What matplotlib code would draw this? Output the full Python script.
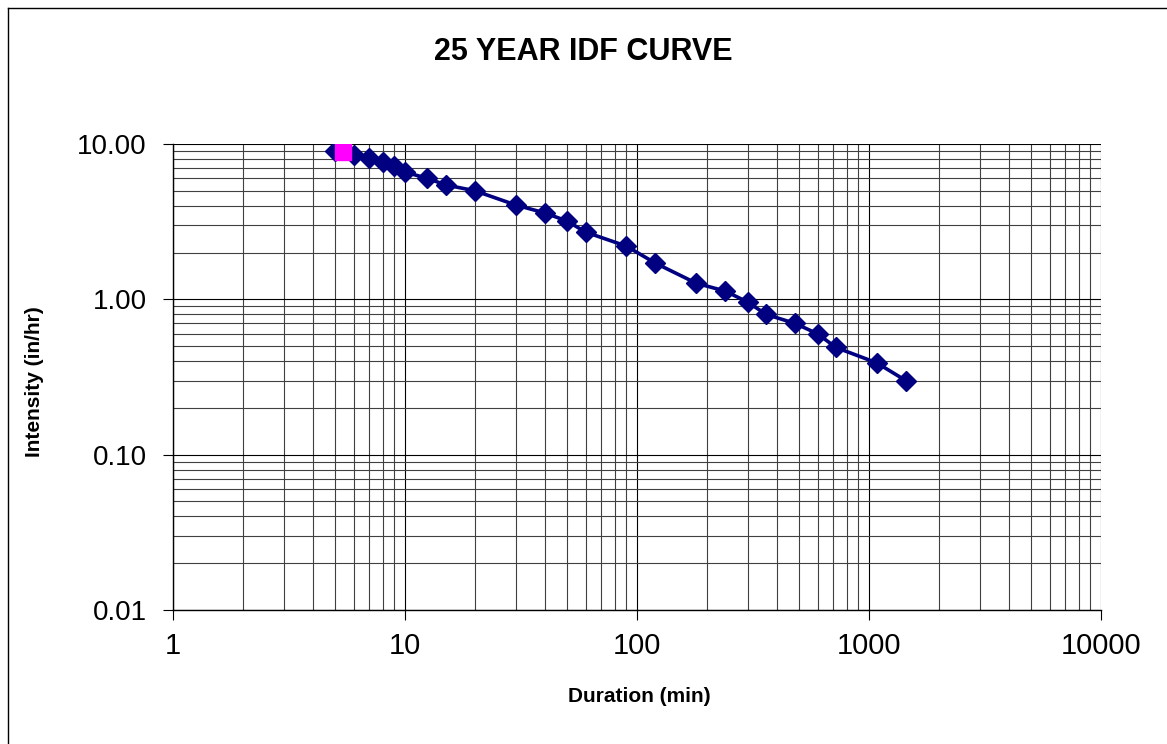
import matplotlib
matplotlib.use("Agg")
import matplotlib.pyplot as plt
from matplotlib.ticker import FixedLocator, FixedFormatter, LogLocator, NullFormatter
from matplotlib.lines import Line2D

plt.rcParams['font.family'] = ['Liberation Sans', 'DejaVu Sans']

# 25 year IDF data
duration = [5, 6, 7, 8, 9, 10, 12.5, 15, 20, 30, 40, 50, 60, 90, 120,
            180, 240, 300, 360, 480, 600, 720, 1080, 1440]
intensity = [9.0, 8.5, 8.1, 7.65, 7.2, 6.6, 6.0, 5.45, 5.0, 4.05, 3.6, 3.19, 2.71, 2.2, 1.71,
             1.27, 1.13, 0.96, 0.80, 0.70, 0.60, 0.49, 0.39, 0.30]

# highlighted point
hl_duration = [5.4]
hl_intensity = [8.9]

x_ticks = [1, 10, 100, 1000, 10000]
x_labels = ["1", "10", "100", "1000", "10000"]
y_ticks = [0.01, 0.1, 1, 10]
y_labels = ["0.01", "0.10", "1.00", "10.00"]

fig = plt.figure(figsize=(11.67, 7.44), dpi=100)
ax = fig.add_axes([173/1167, 1 - 610/744, (1101 - 173)/1167, (610 - 144)/744])

ax.set_xscale('log')
ax.set_yscale('log')
ax.set_xlim(1, 10000)
ax.set_ylim(0.01, 10)

ax.xaxis.set_major_locator(FixedLocator(x_ticks))
ax.xaxis.set_major_formatter(FixedFormatter(x_labels))
ax.yaxis.set_major_locator(FixedLocator(y_ticks))
ax.yaxis.set_major_formatter(FixedFormatter(y_labels))
ax.xaxis.set_minor_locator(LogLocator(base=10, subs=range(2, 10)))
ax.yaxis.set_minor_locator(LogLocator(base=10, subs=range(2, 10)))
ax.xaxis.set_minor_formatter(NullFormatter())
ax.yaxis.set_minor_formatter(NullFormatter())

ax.grid(which="major", color="black", linewidth=0.8)
ax.grid(which="minor", color="#404040", linewidth=0.8)
ax.set_axisbelow(True)

ax.tick_params(which='major', length=7, width=0.8)
ax.tick_params(axis='y', labelsize=20, pad=12)
ax.tick_params(axis='x', labelsize=21, pad=9)
ax.tick_params(which='minor', length=0)
for s in ['top', 'right']:
    ax.spines[s].set_visible(False)
ax.spines['left'].set_linewidth(1)
ax.spines['bottom'].set_linewidth(1)

ax.plot(duration, intensity, color="#000080", linewidth=2.6, marker="D",
        markersize=10.5, markerfacecolor="#000080", markeredgecolor="#000080")
ax.plot(hl_duration, hl_intensity, linestyle="none", marker="s", markersize=12,
        markerfacecolor="#FF00FF", markeredgecolor="#FF00FF")

fig.text(583/1167, 1 - 52/744, "25 YEAR IDF CURVE", ha="center", va="center",
         fontsize=22, fontweight="bold")
fig.text(639/1167, 1 - 696/744, "Duration (min)", ha="center", va="center",
         fontsize=15, fontweight="bold")
fig.text(35/1167, 1 - 382/744, "Intensity (in/hr)", ha="center", va="center",
         fontsize=15, fontweight="bold", rotation=90)

# outer chart border (only top and left visible)
fig.add_artist(Line2D([7.5/1167, 7.5/1167], [0, 1 - 7.5/744], color="black", linewidth=1))
fig.add_artist(Line2D([7.5/1167, 1], [1 - 7.5/744, 1 - 7.5/744], color="black", linewidth=1))

plt.savefig("out.png", dpi=100)
